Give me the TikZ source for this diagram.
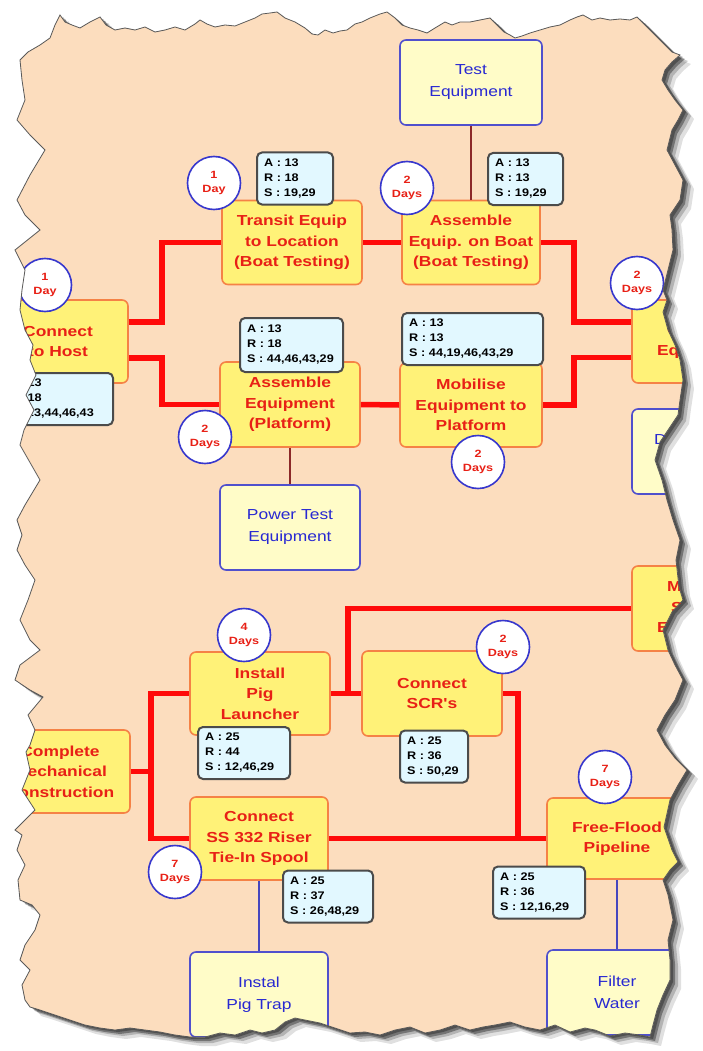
\documentclass[tikz,border=0pt]{standalone}
\usepackage{fontspec}
\setmainfont{Liberation Sans}
\newfontfamily\nf{Liberation Sans}[FakeStretch=1.2]
\newfontfamily\df{Liberation Sans}[FakeStretch=1.15]
\usetikzlibrary{calc}
\definecolor{peach}{RGB}{252,221,190}
\definecolor{taskfill}{RGB}{255,242,120}
\definecolor{taskborder}{RGB}{245,130,70}
\definecolor{taskred}{RGB}{232,32,22}
\definecolor{resfill}{RGB}{255,252,200}
\definecolor{resborder}{RGB}{80,80,205}
\definecolor{resblue}{RGB}{40,40,210}
\definecolor{dataf}{RGB}{226,248,255}
\definecolor{datab}{RGB}{75,75,75}
\definecolor{circb}{RGB}{55,55,205}
\definecolor{critred}{RGB}{255,10,10}
\definecolor{linkbrown}{RGB}{140,40,40}
\definecolor{linkblue}{RGB}{70,70,190}
\newcommand\tornpath{(20,60) -- (28,52) -- (40,45) -- (50,38) -- (55,25) -- (60,15) -- (65,22) -- (72,25) -- (80,28) -- (90,22) -- (100,17) -- (106,25) -- (115,30) -- (125,28) -- (135,30) -- (145,27) -- (155,32) -- (165,30) -- (175,27) -- (185,30) -- (195,24) -- (200,20) -- (207,24) -- (215,27) -- (225,25) -- (235,26) -- (245,22) -- (255,18) -- (262,14) -- (270,13) -- (277,12) -- (285,18) -- (295,22) -- (305,28) -- (312,34) -- (318,35) -- (325,30) -- (333,33) -- (340,31) -- (347,30) -- (355,24) -- (362,22) -- (370,18) -- (380,14) -- (387,12) -- (395,18) -- (402,25) -- (410,28) -- (418,30) -- (427,33) -- (435,28) -- (445,22) -- (452,25) -- (460,22) -- (470,22) -- (480,20) -- (490,18) -- (497,25) -- (504,32) -- (510,35) -- (515,38) -- (522,36) -- (530,33) -- (540,30) -- (550,27) -- (560,25) -- (570,20) -- (577,17) -- (583,15) -- (592,20) -- (600,18) -- (610,20) -- (620,19) -- (630,20) -- (637,17) -- (645,25) -- (655,35) -- (665,45) -- (672,52) -- (680,55) -- (672,62) -- (665,70) -- (662,80) -- (668,90) -- (675,100) -- (683,110) -- (678,120) -- (672,130) -- (667,150) -- (675,165) -- (683,180) -- (680,200) -- (670,215) -- (672,230) -- (673,250) -- (668,270) -- (663,290) -- (667,300) -- (663,312) -- (668,330) -- (675,345) -- (680,360) -- (683,380) -- (680,400) -- (678,415) -- (668,430) -- (660,442) -- (655,460) -- (662,480) -- (667,500) -- (673,520) -- (680,540) -- (676,560) -- (679,587) -- (683,600) -- (672,612) -- (663,630) -- (668,650) -- (675,665) -- (683,680) -- (675,700) -- (665,715) -- (657,730) -- (665,745) -- (675,758) -- (687,770) -- (678,785) -- (670,800) -- (664,827) -- (672,850) -- (678,862) -- (670,870) -- (663,880) -- (668,895) -- (673,920) -- (668,940) -- (670,960) -- (670,980) -- (663,995) -- (657,1010) -- (653,1025) -- (650,1037) -- (640,1035) -- (625,1033) -- (610,1036) -- (595,1030) -- (585,1028) -- (570,1032) -- (555,1025) -- (540,1030) -- (525,1027) -- (510,1022) -- (495,1025) -- (483,1027) -- (470,1030) -- (455,1025) -- (440,1030) -- (425,1033) -- (410,1027) -- (395,1030) -- (380,1035) -- (365,1032) -- (350,1033) -- (335,1028) -- (320,1023) -- (305,1020) -- (295,1018) -- (285,1022) -- (275,1030) -- (262,1033) -- (250,1030) -- (235,1035) -- (220,1033) -- (205,1037) -- (190,1037) -- (175,1035) -- (160,1032) -- (145,1030) -- (130,1028) -- (115,1030) -- (100,1028) -- (85,1025) -- (70,1020) -- (55,1015) -- (40,1010) -- (30,1007) -- (25,1000) -- (22,985) -- (30,970) -- (20,960) -- (25,945) -- (35,930) -- (40,915) -- (32,905) -- (20,900) -- (18,880) -- (25,865) -- (17,850) -- (22,835) -- (15,830) -- (25,820) -- (35,810) -- (22,790) -- (30,770) -- (26,752) -- (30,745) -- (35,730) -- (28,715) -- (43,697) -- (30,690) -- (15,680) -- (20,665) -- (40,650) -- (30,640) -- (20,620) -- (28,600) -- (35,580) -- (25,565) -- (17,550) -- (22,535) -- (17,520) -- (25,505) -- (40,480) -- (20,445) -- (24,430) -- (34,410) -- (26,395) -- (36,375) -- (30,360) -- (33,345) -- (25,330) -- (20,310) -- (22,290) -- (25,270) -- (15,250) -- (30,238) -- (40,230) -- (25,215) -- (17,200) -- (30,175) -- (45,150) -- (30,135) -- (17,120) -- (25,100) -- (22,80) -- cycle}
\tikzset{
  task/.style={draw=taskborder, fill=taskfill, line width=1.6pt, rounded corners=6pt,
    text=taskred, font=\nf\bfseries\fontsize{14.5}{20.5}\selectfont, align=center,
    inner sep=2pt, minimum width=140pt, minimum height=84pt},
  res/.style={draw=resborder, fill=resfill, line width=1.6pt, rounded corners=6pt,
    text=resblue, font=\nf\fontsize{14.5}{22}\selectfont, align=center,
    inner sep=2pt, minimum width=140pt, minimum height=85pt},
  data/.style={draw=datab, fill=dataf, line width=2pt, rounded corners=5pt,
    font=\df\bfseries\fontsize{11}{15}\selectfont, align=left,
    inner xsep=7pt, inner ysep=0pt, minimum height=52pt},
  days/.style={circle, draw=circb, fill=white, line width=1.6pt, minimum size=53pt,
    inner sep=0pt, text=taskred, font=\nf\bfseries\fontsize{10.5}{14}\selectfont, align=center},
  crit/.style={draw=critred, line width=5.5pt},
  link/.style={draw=linkbrown, line width=1.8pt},
  blink/.style={draw=linkblue, line width=1.8pt},
}
\begin{document}
\begin{tikzpicture}[x=1pt,y=-1pt]
\useasboundingbox (0,0) rectangle (703,1051);
\fill[white] (0,0) rectangle (703,1051);
% shadow
\fill[black, opacity=0.12, shift={(11,9)}] \tornpath;
\fill[black, opacity=0.2, shift={(8,6)}] \tornpath;
\fill[black, opacity=0.35, shift={(5,4)}] \tornpath;
\fill[black, opacity=0.3, shift={(3,2)}] \tornpath;
\fill[peach] \tornpath;
\begin{scope}
\clip \tornpath;
% resource boxes
\node[res, minimum width=142pt] (test) at (471,82.5) {Test\\Equipment};
\node[res] (powertest) at (290,527.5) {Power Test\\Equipment};
\node[res] (right2) at (702,451.5) {Dive Spread\\Equipment};
\node[res, minimum width=138pt] (pigtrap) at (259,994.5) {Instal\\Pig Trap};
\node[res] (filter) at (617,992.5) {Filter\\Water};
% task boxes
\node[task] (transit) at (292,242.5) {Transit Equip\\to Location\\(Boat Testing)};
\node[task, minimum width=138pt] (asmboat) at (471,242.5) {Assemble\\Equip. on Boat\\(Boat Testing)};
\node[task, minimum height=83pt] (host) at (58,341.5) {Connect\\to Host};
\node[task, minimum height=85pt] (asmplat) at (290,404.5) {Assemble\\Equipment\\(Platform)};
\node[task, minimum width=142pt] (mobilise) at (471,405) {Mobilise\\Equipment to\\Platform};
\node[task, minimum height=83pt] (right1) at (702,341.5) {Connect\\Equipment};
\node[task, minimum height=85pt] (right3) at (702,608.5) {Mobilise\\Subsea\\Equipment};
\node[task, minimum height=83pt] (install) at (260,693.5) {Install\\Pig\\Launcher};
\node[task, minimum height=85pt] (scr) at (432,693.5) {Connect\\SCR's};
\node[task, minimum height=83pt] (complete) at (60,771.5) {Complete\\Mechanical\\Construction};
\node[task, minimum width=138pt, minimum height=83pt] (ss332) at (259,838.5) {Connect\\SS 332 Riser\\Tie-In Spool};
\node[task, minimum height=81pt] (freeflood) at (617,838.5) {Free-Flood\\Pipeline};
% critical connectors
\draw[crit] ($(host.east)+(0,-19.5)$) -| ($(transit.west)+(-59,0)$) -- (transit.west);
\draw[crit] ($(host.east)+(0,16.5)$) -| ($(asmplat.west)+(-57,0)$) -- (asmplat.west);
\draw[crit] (transit.east) -- (asmboat.west);
\draw[crit] (asmboat.east) -- ++(33,0) |- ($(right1.west)+(0,-19.5)$);
\draw[crit] (asmplat.east) -- (mobilise.west);
\draw[crit] (mobilise.east) -- ++(31,0) |- ($(right1.west)+(0,16)$);
\draw[crit] (install.east) -- (scr.west);
\coordinate (j1) at ($(install.east)+(17,0)$);
\draw[crit] (j1) |- (right3.west);
\draw[crit] (complete.east) -- ++(20,0) coordinate (j3);
\draw[crit] (j3) |- (install.west);
\draw[crit] (j3) |- (ss332.west);
\draw[crit] (ss332.east) -- (freeflood.west);
\coordinate (j2) at ($(freeflood.west)+(-28,0)$);
\draw[crit] (scr.east) -| (j2);
% resource links
\draw[link] (test.south) -- (asmboat.north);
\draw[link] (asmplat.south) -- (powertest.north);
\draw[blink] (ss332.south) -- (pigtrap.north);
\draw[blink] (freeflood.south) -- (filter.north);
% data boxes
\node[data, text width=62pt] (dtransit) at (295,178.5) {A~:~13\\R~:~18\\S~:~19,29};
\node[data, text width=61pt] (dasmboat) at (525.5,179) {A~:~13\\R~:~13\\S~:~19,29};
\node[data, text width=99pt] (dhost) at (56.5,399) {A~:~13\\R~:~18\\S~:~13,44,46,43};
\node[data, text width=89pt, minimum height=54pt] (dasmplat) at (291.5,345) {A~:~13\\R~:~18\\S~:~44,46,43,29};
\node[data, text width=127pt] (dmobilise) at (472.5,339) {A~:~13\\R~:~13\\S~:~44,19,46,43,29};
\node[data, text width=78pt] (dinstall) at (244,753) {A~:~25\\R~:~44\\S~:~12,46,29};
\node[data, text width=54pt] (dscr) at (434,756.5) {A~:~25\\R~:~36\\S~:~50,29};
\node[data, text width=76pt] (dss332) at (328,896.5) {A~:~25\\R~:~37\\S~:~26,48,29};
\node[data, text width=78pt] (dfree) at (539,892.5) {A~:~25\\R~:~36\\S~:~12,16,29};
% duration circles
\node[days] (ctransit) at (214,183) {1\\Day};
\node[days] (casmboat) at (407,188) {2\\Days};
\node[days] (chost) at (45,285) {1\\Day};
\node[days] (casmplat) at (205,437) {2\\Days};
\node[days] (cmobilise) at (478,462) {2\\Days};
\node[days] (cright1) at (637,283) {2\\Days};
\node[days] (cinstall) at (244,635) {4\\Days};
\node[days] (cscr) at (503,647) {2\\Days};
\node[days] (css332) at (175,872) {7\\Days};
\node[days] (cfree) at (605,777) {7\\Days};
\end{scope}
\draw[black!65, line width=0.8pt] \tornpath;
\end{tikzpicture}
\end{document}
